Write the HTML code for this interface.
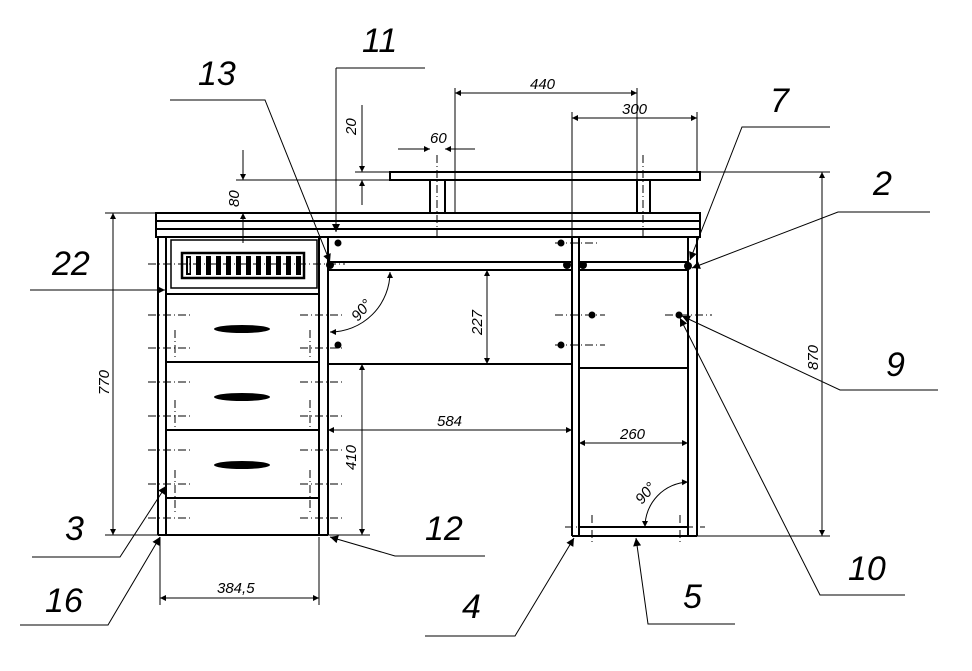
<!DOCTYPE html>
<html><head><meta charset="utf-8"><style>
html,body{margin:0;padding:0;background:#fff;}
svg{display:block;}
text{font-family:"Liberation Sans",sans-serif;font-style:italic;fill:#000;}
.big{font-size:34px;}
.dim{font-size:15px;}
</style></head><body>
<svg width="972" height="671" viewBox="0 0 972 671" xmlns="http://www.w3.org/2000/svg">
<defs>
<marker id="a" viewBox="0 0 10 10" refX="10" refY="5" markerWidth="10" markerHeight="6" orient="auto-start-reverse" markerUnits="userSpaceOnUse"><path d="M0,0L10,5L0,10z" fill="#000"/></marker>
<marker id="b" viewBox="0 0 10 10" refX="10" refY="5" markerWidth="18" markerHeight="8" orient="auto" markerUnits="userSpaceOnUse"><path d="M0,0L10,5L0,10z" fill="#000"/></marker>
</defs>
<g stroke="#000" fill="none" stroke-width="2">
<!-- superstructure -->
<rect x="390" y="172" width="310" height="8"/>
<line x1="430" y1="180" x2="430" y2="213"/><line x1="445" y1="180" x2="445" y2="213"/>
<line x1="637" y1="180" x2="637" y2="213"/><line x1="650" y1="180" x2="650" y2="213"/>
<!-- top -->
<rect x="156" y="213" width="544" height="24"/>
<line x1="156" y1="221" x2="700" y2="221"/><line x1="156" y1="229" x2="700" y2="229"/>
<!-- left pedestal -->
<line x1="158" y1="237" x2="158" y2="535"/><line x1="166" y1="237" x2="166" y2="535"/>
<line x1="319" y1="237" x2="319" y2="535"/><line x1="328" y1="237" x2="328" y2="535"/>
<line x1="158" y1="535" x2="328" y2="535"/>
<rect x="171" y="240" width="146" height="48" stroke-width="1.5"/>
<line x1="166" y1="294" x2="319" y2="294"/>
<line x1="166" y1="362" x2="319" y2="362"/>
<line x1="166" y1="430" x2="319" y2="430"/>
<line x1="166" y1="498" x2="319" y2="498"/>
<!-- grille -->
<rect x="182" y="253" width="122" height="25" stroke-width="2.5"/>
<!-- middle -->
<line x1="328" y1="262" x2="572" y2="262"/><line x1="328" y1="270" x2="572" y2="270"/>
<line x1="328" y1="364" x2="572" y2="364"/>
<!-- right pedestal -->
<line x1="572" y1="237" x2="572" y2="536"/><line x1="579" y1="237" x2="579" y2="536"/>
<line x1="688" y1="237" x2="688" y2="536"/><line x1="697" y1="237" x2="697" y2="536"/>
<line x1="579" y1="262" x2="688" y2="262"/><line x1="579" y1="270" x2="688" y2="270"/>
<line x1="579" y1="368" x2="688" y2="368"/>
<line x1="579" y1="527" x2="688" y2="527"/>
<line x1="572" y1="536" x2="697" y2="536"/>
</g>
<!-- grille slots -->
<g fill="#000">
<g id="sl"><rect x="186" y="256" width="5" height="19"/></g>
<rect x="196" y="256" width="5" height="19"/><rect x="206" y="256" width="5" height="19"/><rect x="216" y="256" width="5" height="19"/><rect x="226" y="256" width="5" height="19"/><rect x="236" y="256" width="5" height="19"/><rect x="246" y="256" width="5" height="19"/><rect x="256" y="256" width="5" height="19"/><rect x="266" y="256" width="5" height="19"/><rect x="276" y="256" width="5" height="19"/><rect x="286" y="256" width="5" height="19"/><rect x="296" y="256" width="5" height="19"/>
<ellipse cx="242" cy="329" rx="28" ry="4"/><ellipse cx="242" cy="397" rx="28" ry="4"/><ellipse cx="242" cy="465" rx="28" ry="4"/>
<circle cx="338" cy="243" r="3.5"/><circle cx="338" cy="345" r="3.5"/>
<circle cx="561" cy="243" r="3.5"/><circle cx="592" cy="315" r="3.5"/><circle cx="561" cy="345" r="3.5"/><circle cx="679" cy="315" r="3.5"/>
<circle cx="567" cy="265" r="4"/><circle cx="583" cy="265" r="4"/><circle cx="330" cy="265" r="4"/><circle cx="688" cy="266" r="4"/>
</g>
<g fill="#fff"><rect x="188" y="258" width="1.5" height="15"/></g>
<!-- dash-dot center marks -->
<g stroke="#000" stroke-width="1" stroke-dasharray="8,3,1,3">
<line x1="148" y1="348" x2="190" y2="348"/><line x1="300" y1="348" x2="345" y2="348"/>
<line x1="148" y1="416" x2="190" y2="416"/><line x1="300" y1="416" x2="345" y2="416"/>
<line x1="148" y1="484" x2="190" y2="484"/><line x1="300" y1="484" x2="345" y2="484"/>
<line x1="148" y1="264" x2="345" y2="264"/>
<line x1="148" y1="315" x2="190" y2="315"/><line x1="300" y1="315" x2="345" y2="315"/>
<line x1="148" y1="382" x2="190" y2="382"/><line x1="300" y1="382" x2="345" y2="382"/>
<line x1="148" y1="450" x2="190" y2="450"/><line x1="300" y1="450" x2="345" y2="450"/>
<line x1="148" y1="518" x2="190" y2="518"/><line x1="300" y1="518" x2="345" y2="518"/>
<line x1="175" y1="330" x2="175" y2="360"/><line x1="310" y1="330" x2="310" y2="360"/>
<line x1="175" y1="400" x2="175" y2="430"/><line x1="310" y1="400" x2="310" y2="430"/>
<line x1="175" y1="470" x2="175" y2="515"/><line x1="310" y1="470" x2="310" y2="515"/>
<line x1="555" y1="315" x2="605" y2="315"/><line x1="555" y1="345" x2="605" y2="345"/>
<line x1="665" y1="315" x2="712" y2="315"/><line x1="555" y1="243" x2="600" y2="243"/>
<line x1="437" y1="155" x2="437" y2="240"/><line x1="643" y1="155" x2="643" y2="240"/>
<line x1="592" y1="515" x2="592" y2="545"/><line x1="680" y1="515" x2="680" y2="545"/>
<line x1="565" y1="527" x2="705" y2="527"/>
</g>
<!-- dimension lines -->
<g stroke="#000" stroke-width="1" fill="none">
<line x1="336" y1="68" x2="425" y2="68"/><line x1="336" y1="68" x2="336" y2="232" marker-end="url(#b)"/>
<line x1="455" y1="88" x2="455" y2="213"/><line x1="637" y1="88" x2="637" y2="180"/>
<line x1="455" y1="93" x2="637" y2="93" marker-start="url(#a)" marker-end="url(#a)"/>
<line x1="572" y1="112" x2="572" y2="237"/><line x1="697" y1="112" x2="697" y2="172"/>
<line x1="572" y1="118" x2="697" y2="118" marker-start="url(#a)" marker-end="url(#a)"/>
<line x1="398" y1="149" x2="430" y2="149" marker-end="url(#a)"/><line x1="475" y1="149" x2="445" y2="149" marker-end="url(#a)"/>
<line x1="362" y1="105" x2="362" y2="172" marker-end="url(#a)"/><line x1="362" y1="205" x2="362" y2="180" marker-end="url(#a)"/>
<line x1="355" y1="172" x2="390" y2="172"/>
<line x1="236" y1="180" x2="390" y2="180"/>
<line x1="243" y1="150" x2="243" y2="180" marker-end="url(#a)"/><line x1="243" y1="243" x2="243" y2="213" marker-end="url(#a)"/>
<line x1="105" y1="213" x2="156" y2="213"/><line x1="105" y1="535" x2="160" y2="535"/>
<line x1="113" y1="213" x2="113" y2="535" marker-start="url(#a)" marker-end="url(#a)"/>
<line x1="700" y1="172" x2="830" y2="172"/><line x1="697" y1="536" x2="830" y2="536"/>
<line x1="822" y1="172" x2="822" y2="536" marker-start="url(#a)" marker-end="url(#a)"/>
<line x1="487" y1="270" x2="487" y2="364" marker-start="url(#a)" marker-end="url(#a)"/>
<line x1="328" y1="535" x2="370" y2="535"/>
<line x1="362" y1="364" x2="362" y2="535" marker-start="url(#a)" marker-end="url(#a)"/>
<line x1="328" y1="430" x2="572" y2="430" marker-start="url(#a)" marker-end="url(#a)"/>
<line x1="579" y1="443" x2="688" y2="443" marker-start="url(#a)" marker-end="url(#a)"/>
<line x1="160" y1="537" x2="160" y2="605"/><line x1="319" y1="537" x2="319" y2="605"/>
<line x1="160" y1="598" x2="319" y2="598" marker-start="url(#a)" marker-end="url(#a)"/>
<path d="M330,332 A60,60 0 0 0 390,272" marker-start="url(#a)" marker-end="url(#a)"/>
<path d="M645,527 A45,45 0 0 1 688,482" marker-start="url(#a)" marker-end="url(#a)"/>
<!-- leaders -->
<polyline points="170,100 265,100 330,262" marker-end="url(#b)"/>
<polyline points="830,127 742,127 690,260" marker-end="url(#b)"/>
<polyline points="930,212 838,212 692,268" marker-end="url(#b)"/>
<polyline points="30,290 165,290" marker-end="url(#b)"/>
<polyline points="938,390 840,390 682,316" marker-end="url(#b)"/>
<polyline points="905,595 820,595 680,318" marker-end="url(#b)"/>
<polyline points="32,557 120,557 166,486" marker-end="url(#b)"/>
<polyline points="20,625 108,625 160,537" marker-end="url(#b)"/>
<polyline points="485,556 395,556 330,537" marker-end="url(#b)"/>
<polyline points="425,636 515,636 574,538" marker-end="url(#b)"/>
<polyline points="735,624 648,624 636,538" marker-end="url(#b)"/>
</g>
<!-- texts -->
<text class="big" x="362" y="52">11</text>
<text class="big" x="198" y="85">13</text>
<text class="big" x="770" y="112">7</text>
<text class="big" x="873" y="195">2</text>
<text class="big" x="52" y="275">22</text>
<text class="big" x="886" y="376">9</text>
<text class="big" x="848" y="580">10</text>
<text class="big" x="65" y="540">3</text>
<text class="big" x="45" y="612">16</text>
<text class="big" x="425" y="540">12</text>
<text class="big" x="462" y="618">4</text>
<text class="big" x="683" y="608">5</text>
<text class="dim" x="530" y="89">440</text>
<text class="dim" x="622" y="114">300</text>
<text class="dim" x="430" y="143">60</text>
<text class="dim" x="437" y="426">584</text>
<text class="dim" x="620" y="439">260</text>
<text class="dim" x="217" y="593">384,5</text>
<text class="dim" transform="translate(356,135) rotate(-90)">20</text>
<text class="dim" transform="translate(239,207) rotate(-90)">80</text>
<text class="dim" transform="translate(109,395) rotate(-90)">770</text>
<text class="dim" transform="translate(818,370) rotate(-90)">870</text>
<text class="dim" transform="translate(482,335) rotate(-90)">227</text>
<text class="dim" transform="translate(356,470) rotate(-90)">410</text>
<text class="dim" transform="translate(358,322) rotate(-50)">90°</text>
<text class="dim" transform="translate(642,505) rotate(-50)">90°</text>
</svg>
</body></html>
